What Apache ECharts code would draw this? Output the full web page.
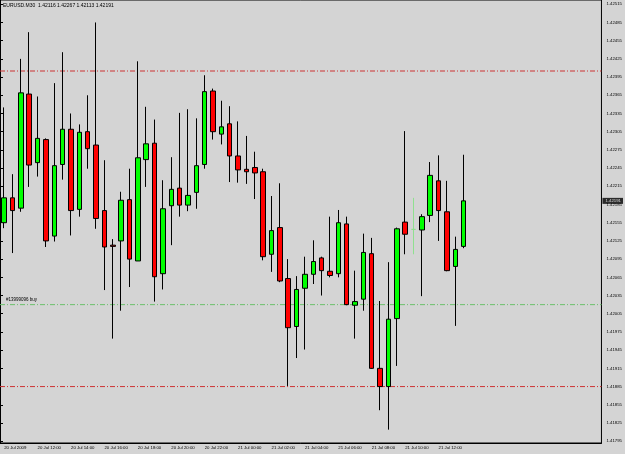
<!DOCTYPE html>
<html>
<head>
<meta charset="utf-8">
<script src="https://cdn.jsdelivr.net/npm/echarts@6/dist/echarts.min.js"></script>
<style>
  html, body { margin: 0; padding: 0; background: #d4d4d4; }
  #chart { width: 625px; height: 454px; }
</style>
</head>
<body>
<div id="chart"></div>
<script>
// EURUSD M30 bars, 20 Jul 10:00 .. 21 Jul 13:30
const barTimes = [
  '20 Jul 10:00', '20 Jul 10:30', '20 Jul 11:00', '20 Jul 11:30', '20 Jul 12:00', '20 Jul 12:30', '20 Jul 13:00', '20 Jul 13:30',
  '20 Jul 14:00', '20 Jul 14:30', '20 Jul 15:00', '20 Jul 15:30', '20 Jul 16:00', '20 Jul 16:30', '20 Jul 17:00', '20 Jul 17:30',
  '20 Jul 18:00', '20 Jul 18:30', '20 Jul 19:00', '20 Jul 19:30', '20 Jul 20:00', '20 Jul 20:30', '20 Jul 21:00', '20 Jul 21:30',
  '20 Jul 22:00', '20 Jul 22:30', '20 Jul 23:00', '20 Jul 23:30', '21 Jul 00:00', '21 Jul 00:30', '21 Jul 01:00', '21 Jul 01:30',
  '21 Jul 02:00', '21 Jul 02:30', '21 Jul 03:00', '21 Jul 03:30', '21 Jul 04:00', '21 Jul 04:30', '21 Jul 05:00', '21 Jul 05:30',
  '21 Jul 06:00', '21 Jul 06:30', '21 Jul 07:00', '21 Jul 07:30', '21 Jul 08:00', '21 Jul 08:30', '21 Jul 09:00', '21 Jul 09:30',
  '21 Jul 10:00', '21 Jul 10:30', '21 Jul 11:00', '21 Jul 11:30', '21 Jul 12:00', '21 Jul 12:30', '21 Jul 13:00', '21 Jul 13:30'
]

const opens = [
  1.42155, 1.42196, 1.42179, 1.42367, 1.42254, 1.42292, 1.42133, 1.42251,
  1.42309, 1.42177, 1.42305, 1.42283, 1.42175, 1.42118, 1.42125, 1.42193,
  1.42092, 1.42259, 1.42286, 1.42071, 1.42183, 1.42212, 1.42184, 1.42205,
  1.42251, 1.42372, 1.42301, 1.42318, 1.42265, 1.42243, 1.42246, 1.42239,
  1.42103, 1.42147, 1.42063, 1.41984, 1.42047, 1.42070, 1.42097, 1.42075,
  1.42071, 1.42153, 1.42019, 1.42029, 1.42104, 1.41915, 1.41885, 1.41997,
  1.42156, 1.42144, 1.42143, 1.42167, 1.42224, 1.42173, 1.42083, 1.42116
]
const highs = [
  1.42345, 1.42235, 1.42425, 1.42469, 1.42363, 1.42294, 1.42385, 1.42436,
  1.42335, 1.42317, 1.42365, 1.42485, 1.42258, 1.42128, 1.42206, 1.42244,
  1.42421, 1.42346, 1.42325, 1.42225, 1.42263, 1.42336, 1.42342, 1.42327,
  1.42398, 1.42376, 1.42356, 1.42347, 1.42322, 1.42298, 1.42272, 1.42244,
  1.42199, 1.42220, 1.42095, 1.42067, 1.42099, 1.42126, 1.42099, 1.42165,
  1.42176, 1.42165, 1.42076, 1.42137, 1.42130, 1.42026, 1.42090, 1.42147,
  1.42306, 1.42196, 1.42169, 1.42255, 1.42266, 1.42224, 1.42132, 1.42267
]
const lows = [
  1.42146, 1.42105, 1.42173, 1.42214, 1.42231, 1.42115, 1.42124, 1.42226,
  1.42134, 1.42165, 1.42244, 1.42145, 1.42044, 1.41964, 1.42010, 1.42049,
  1.42092, 1.42214, 1.42025, 1.42045, 1.42118, 1.42165, 1.42174, 1.42178,
  1.42244, 1.42292, 1.42284, 1.42222, 1.42221, 1.42219, 1.42194, 1.42093,
  1.42074, 1.42057, 1.41886, 1.41932, 1.41946, 1.42054, 1.42035, 1.42065,
  1.42065, 1.42019, 1.41964, 1.42010, 1.41914, 1.41846, 1.41814, 1.41919,
  1.42103, 1.42103, 1.42034, 1.42156, 1.42125, 1.42075, 1.41985, 1.42113
]
const closes = [
  1.42196, 1.42175, 1.42369, 1.42250, 1.42294, 1.42125, 1.42249, 1.42309,
  1.42175, 1.42304, 1.42277, 1.42162, 1.42115, 1.42116, 1.42192, 1.42095,
  1.42262, 1.42285, 1.42066, 1.42178, 1.42210, 1.42184, 1.42200, 1.42249,
  1.42371, 1.42305, 1.42313, 1.42265, 1.42242, 1.42239, 1.42237, 1.42099,
  1.42142, 1.42059, 1.41982, 1.42045, 1.42070, 1.42091, 1.42076, 1.42068,
  1.42155, 1.42020, 1.42025, 1.42106, 1.41915, 1.41885, 1.41996, 1.42145,
  1.42136, 1.42144, 1.42165, 1.42233, 1.42175, 1.42076, 1.42111, 1.42191
]

// trade levels drawn across the chart
const takeProfit = 1.42405
const orderPrice = 1.42020
const stopLoss = 1.41885
const orderLabel = '#13999096 buy'

// price scale labels
const yTicks = [
  1.42515, 1.42485, 1.42455, 1.42425, 1.42395, 1.42365, 1.42335, 1.42305, 1.42275,
  1.42245, 1.42215, 1.42185, 1.42155, 1.42125, 1.42095, 1.42065, 1.42035, 1.42005,
  1.41975, 1.41945, 1.41915, 1.41885, 1.41855, 1.41825, 1.41795
]

// time scale labels (bar index -> text)
const xTickIndex = [0, 4, 8, 12, 16, 20, 24, 28, 32, 36, 40, 44, 48, 52]
const xTickLabels = [
  '20 Jul 2009', '20 Jul 12:00', '20 Jul 14:00', '20 Jul 16:00', '20 Jul 18:00', '20 Jul 20:00', '20 Jul 22:00',
  '21 Jul 00:00', '21 Jul 02:00', '21 Jul 04:00', '21 Jul 06:00', '21 Jul 08:00', '21 Jul 10:00', '21 Jul 12:00'
]

// empty bars on the right (chart shift)
const shiftBars = 16
const FONT = 'Liberation Sans'

const last = opens.length - 1
const categories = barTimes.concat(new Array(shiftBars).fill(''))

const candles = opens.map((o, i) => {
  const item = { value: [o, closes[i], lows[i], highs[i]] }
  // doji bars use the line-graph colour
  if (o === closes[i]) {
    item.itemStyle = { color: '#8fe08f', color0: '#8fe08f', borderColor: '#8fe08f', borderColor0: '#8fe08f', borderColorDoji: '#8fe08f' }
  }
  return item
})

const showTick = (i) => xTickIndex.includes(i)
const dashDot = [5, 2, 1, 2]

// a horizontal price level, drawn on the hidden 0..1 x axis so it spans the whole chart
function levelSeries(value, color, label) {
  return {
    type: 'line',
    xAxisIndex: 1,
    data: [
      { value: [0, value], label: label || { show: false } },
      [1, value]
    ],
    symbol: 'circle',
    symbolSize: 0,
    showSymbol: true,
    silent: true,
    z: 1,
    lineStyle: { color: color, type: dashDot, width: 1 },
    itemStyle: { color: color }
  }
}

const chart = echarts.init(document.getElementById('chart'), null, { renderer: 'canvas' })
chart.setOption({
  backgroundColor: '#d4d4d4',
  animation: false,
  title: {
    text: 'EURUSD.M30  ' + [opens[last], highs[last], lows[last], closes[last]].map(v => v.toFixed(5)).join(' '),
    left: 3,
    top: 3,
    padding: 0,
    textStyle: { fontFamily: FONT, fontSize: 5, fontWeight: 'normal', color: '#000' }
  },
  grid: {
    left: -2.5,
    right: 21,
    top: 0,
    bottom: 11,
    show: true,
    borderColor: '#000',
    borderWidth: 1
  },
  xAxis: [
    {
      type: 'category',
      data: categories,
      boundaryGap: true,
      axisLine: { lineStyle: { color: '#000', width: 1 } },
      axisTick: { alignWithLabel: true, interval: (i) => showTick(i), length: 3, lineStyle: { color: '#000' } },
      axisLabel: {
        interval: (i) => showTick(i),
        formatter: (v, i) => xTickLabels[xTickIndex.indexOf(i)] || '',
        align: 'left',
        margin: 3,
        fontFamily: FONT,
        fontSize: 4.3,
        color: '#000'
      },
      splitLine: { show: false }
    },
    { type: 'value', min: 0, max: 1, show: false }
  ],
  yAxis: {
    type: 'value',
    position: 'right',
    min: 1.41792,
    max: 1.42522,
    axisLine: { show: true, lineStyle: { color: '#000', width: 1 } },
    axisTick: { show: true, customValues: yTicks, length: 3, lineStyle: { color: '#000' } },
    axisLabel: {
      customValues: yTicks,
      formatter: (v) => v.toFixed(5),
      margin: 5,
      fontFamily: FONT,
      fontSize: 4.3,
      color: '#000'
    },
    splitLine: { show: false }
  },
  series: [
    levelSeries(takeProfit, '#cc3333'),
    levelSeries(orderPrice, '#6cc06c', {
      show: true,
      position: 'right',
      distance: 0,
      offset: [6, -5],
      formatter: orderLabel,
      fontFamily: FONT,
      fontSize: 4.5,
      color: '#000'
    }),
    levelSeries(stopLoss, '#cc3333'),
    {
      // current bid box on the price scale
      type: 'scatter',
      xAxisIndex: 1,
      data: [[1, closes[last]]],
      symbolSize: 0,
      silent: true,
      z: 5,
      label: {
        show: true,
        position: 'right',
        distance: 1,
        formatter: closes[last].toFixed(5),
        backgroundColor: '#000',
        color: '#fff',
        padding: [1, 2, 1, 3],
        fontFamily: FONT,
        fontSize: 4.3
      }
    },
    {
      type: 'candlestick',
      data: candles,
      barWidth: 5,
      z: 2,
      itemStyle: {
        color: '#00ff00',
        color0: '#ff0000',
        borderColor: '#000',
        borderColor0: '#000',
        borderColorDoji: '#000',
        borderWidth: 1
      }
    }
  ]
})
</script>
</body>
</html>
